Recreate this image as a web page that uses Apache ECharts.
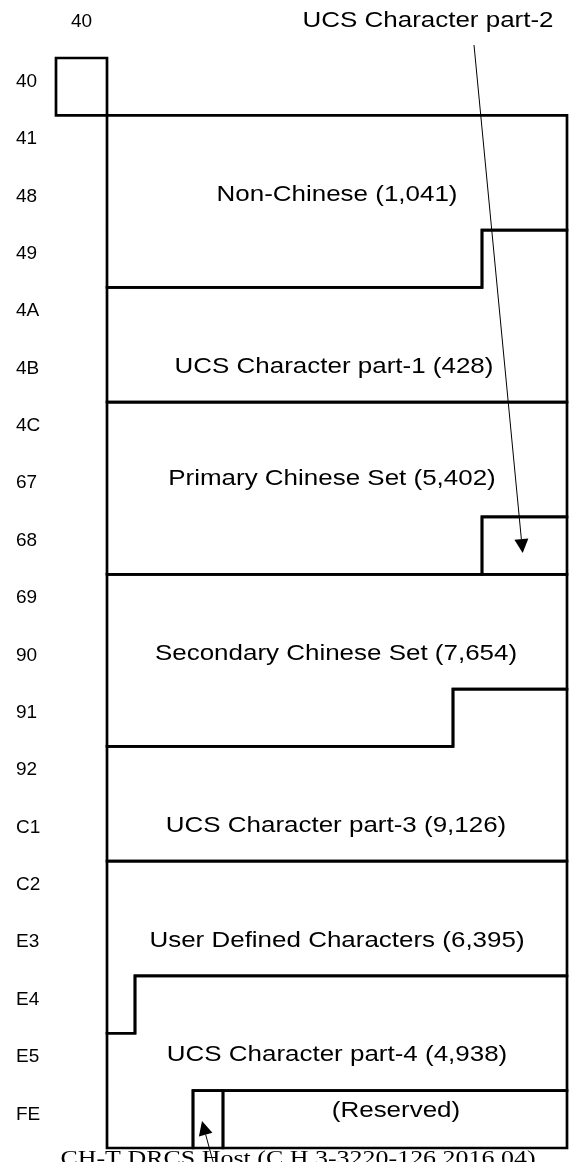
<!DOCTYPE html>
<html>
<head>
<meta charset="utf-8">
<script src="https://cdn.jsdelivr.net/npm/echarts@6/dist/echarts.min.js"></script>
<style>html,body{margin:0;padding:0;background:#fff}#c{width:569px;height:1162px}</style>
</head>
<body>
<div id="c"></div>
<script>
// Row (first byte) tick labels, top to bottom
const rows = ['40','41','48','49','4A','4B','4C','67','68','69','90','91','92','C1','C2','E3','E4','E5','FE'];
// Column (second byte) tick label
const colTicks = ['40'];
const colTickAt = [25.5];

// Region outlines: [x, row] vertices (x on a 0..511 schematic column scale, rows 0..19)
const regionNames = ['40 box','Non-Chinese','UCS Character part-1','Primary Chinese Set','UCS Character part-2','Secondary Chinese Set','UCS Character part-3','User Defined Characters','UCS Character part-4','CH-T DRCS Host','Reserved'];
const regionShapes = [
  [[0,0],[51,0],[51,1],[0,1]],
  [[51,1],[511,1],[511,3],[426,3],[426,4],[51,4]],
  [[426,3],[511,3],[511,6],[51,6],[51,4],[426,4]],
  [[51,6],[511,6],[511,8],[426,8],[426,9],[51,9]],
  [[426,8],[511,8],[511,9],[426,9]],
  [[51,9],[511,9],[511,11],[397,11],[397,12],[51,12]],
  [[397,11],[511,11],[511,14],[51,14],[51,12],[397,12]],
  [[51,14],[511,14],[511,16],[79,16],[79,17],[51,17]],
  [[79,16],[511,16],[511,18],[137,18],[137,19],[51,19],[51,17],[79,17]],
  [[137,18],[167,18],[167,19],[137,19]],
  [[167,18],[511,18],[511,19],[167,19]]
];

// Region labels with counts
const labelTexts = ['Non-Chinese (1,041)','UCS Character part-1 (428)','Primary Chinese Set (5,402)','Secondary Chinese Set (7,654)','UCS Character part-3 (9,126)','User Defined Characters (6,395)','UCS Character part-4 (4,938)','(Reserved)'];
const labelPos = [[281,2.38],[278,5.38],[276,7.33],[280,10.38],[280,13.38],[281,15.39],[281,17.37],[340,18.35]];

// Callouts
const calloutTexts = ['UCS Character part-2','CH-T DRCS Host (C.H.3-3220-126.2016.04)'];
const calloutTextPos = [[372,-0.64],[242,19.2]];
const calloutArrows = [
  [[418,-0.227],[466.7,8.63]],
  [[158,19.3],[146,18.53]]
];

const chart = echarts.init(document.getElementById('c'), null, {renderer:'canvas'});
const sans = '"Liberation Sans", Arial, sans-serif';
const serif = '"Liberation Serif", "Times New Roman", serif';
const stretch = 1.18;

function textEl(p, text, font){
  return {type:'text', x:p[0], y:p[1], scaleX:stretch, scaleY:1,
    style:{text:text, fill:'#000', font:font, align:'center', verticalAlign:'middle'}};
}

chart.setOption({
  animation:false,
  backgroundColor:'#fff',
  grid:{left:56, top:58, width:511, height:1090, containLabel:false},
  xAxis:[{type:'value', min:0, max:511, show:false}],
  yAxis:[
    {type:'category', data:rows, inverse:true, boundaryGap:true,
     axisLine:{show:false}, axisTick:{show:false}, splitLine:{show:false},
     axisLabel:{align:'left', verticalAlign:'bottom', lineHeight:10, margin:40, fontSize:19, color:'#000', fontFamily:sans}},
    {type:'value', min:0, max:19, inverse:true, show:false}
  ],
  series:[
    {
      type:'custom', xAxisIndex:0, yAxisIndex:1, silent:true, clip:false,
      data: regionShapes.map((s,i)=>[i,0]),
      renderItem:(params, api)=>{
        const pts = regionShapes[params.dataIndex].map(p=>api.coord(p));
        return {type:'polygon', shape:{points:pts}, style:{fill:'none', stroke:'#000', lineWidth:2.7, lineJoin:'miter'}};
      }
    },
    {
      type:'custom', xAxisIndex:0, yAxisIndex:1, silent:true, clip:false,
      data: labelTexts.map((t,i)=>[i,0]),
      renderItem:(params, api)=>textEl(api.coord(labelPos[params.dataIndex]), labelTexts[params.dataIndex], '22px '+sans)
    },
    {
      type:'custom', xAxisIndex:0, yAxisIndex:1, silent:true, clip:false,
      data: calloutTexts.map((t,i)=>[i,0]),
      renderItem:(params, api)=>{
        const i = params.dataIndex;
        return textEl(api.coord(calloutTextPos[i]), calloutTexts[i], i===0 ? '22px '+sans : '22px '+serif);
      }
    },
    {
      type:'custom', xAxisIndex:0, yAxisIndex:1, silent:true, clip:false,
      data: calloutArrows.map((a,i)=>[i,0]),
      renderItem:(params, api)=>{
        const a = calloutArrows[params.dataIndex];
        const p1 = api.coord(a[0]), p2 = api.coord(a[1]);
        const dx = p2[0]-p1[0], dy = p2[1]-p1[1];
        const L = Math.sqrt(dx*dx+dy*dy), ux = dx/L, uy = dy/L;
        const hl = 14, hw = 7;
        const bx = p2[0]-ux*hl, by = p2[1]-uy*hl;
        return {type:'group', children:[
          {type:'line', shape:{x1:p1[0], y1:p1[1], x2:bx, y2:by}, style:{stroke:'#000', lineWidth:1}},
          {type:'polygon', shape:{points:[p2,[bx-uy*hw, by+ux*hw],[bx+uy*hw, by-ux*hw]]}, style:{fill:'#000', stroke:'none'}}
        ]};
      }
    },
    {
      type:'custom', xAxisIndex:0, yAxisIndex:1, silent:true, clip:false,
      data: colTicks.map((t,i)=>[i,0]),
      renderItem:(params, api)=>{
        const p = api.coord([colTickAt[params.dataIndex], -0.63]);
        return {type:'text', x:p[0], y:p[1], style:{text:colTicks[params.dataIndex], fill:'#000', font:'19px '+sans, align:'center', verticalAlign:'middle'}};
      }
    }
  ]
});
</script>
</body>
</html>
